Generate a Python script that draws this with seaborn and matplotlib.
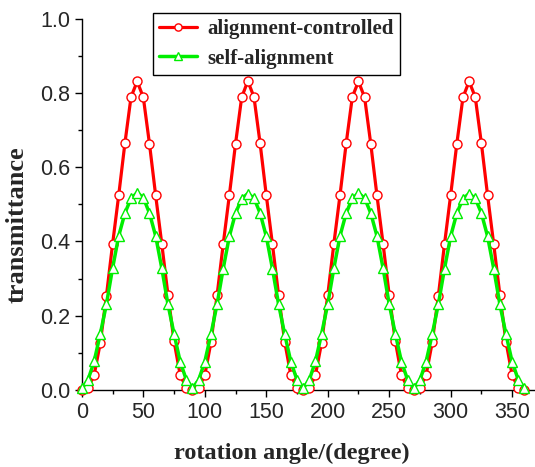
import numpy as np
import pandas as pd
import matplotlib
matplotlib.use("Agg")
import matplotlib.pyplot as plt
import seaborn as sns
from matplotlib.ticker import MultipleLocator

# rotation angle (degree)
angle = list(range(0, 365, 5))

# transmittance, alignment-controlled
aligned = [
    0.000, 0.005, 0.040, 0.127, 0.254, 0.393, 0.525, 0.664, 0.789, 0.831, 0.788, 0.663, 0.525, 0.394, 0.257, 0.131, 0.040, 0.006,
    0.000, 0.006, 0.040, 0.128, 0.255, 0.393, 0.525, 0.663, 0.788, 0.832, 0.789, 0.664, 0.525, 0.393, 0.256, 0.130, 0.040, 0.006,
    0.000, 0.005, 0.040, 0.127, 0.255, 0.394, 0.525, 0.664, 0.789, 0.831, 0.788, 0.663, 0.525, 0.394, 0.256, 0.131, 0.040, 0.006,
    0.000, 0.006, 0.040, 0.128, 0.254, 0.393, 0.525, 0.663, 0.788, 0.831, 0.789, 0.664, 0.525, 0.393, 0.257, 0.130, 0.040, 0.005,
    0.000,
]

# transmittance, self-alignment
selfal = [
    0.005, 0.027, 0.077, 0.151, 0.231, 0.328, 0.415, 0.476, 0.516, 0.531, 0.518, 0.476, 0.415, 0.328, 0.231, 0.151, 0.076, 0.027,
    0.005, 0.027, 0.076, 0.150, 0.231, 0.327, 0.414, 0.476, 0.515, 0.529, 0.517, 0.476, 0.414, 0.327, 0.231, 0.150, 0.076, 0.027,
    0.005, 0.027, 0.077, 0.151, 0.231, 0.328, 0.415, 0.476, 0.516, 0.530, 0.517, 0.476, 0.415, 0.328, 0.231, 0.151, 0.076, 0.027,
    0.005, 0.027, 0.076, 0.150, 0.231, 0.327, 0.414, 0.476, 0.515, 0.529, 0.516, 0.476, 0.414, 0.327, 0.231, 0.150, 0.076, 0.027,
    0.005,
]

sns.set_theme(style="ticks")
plt.rcParams.update({
    'font.family': ['Liberation Sans', 'DejaVu Sans'],
    'axes.linewidth': 1.0,
    'xtick.major.size': 5, 'ytick.major.size': 5,
    'xtick.minor.size': 3, 'ytick.minor.size': 3,
    'xtick.direction': 'out', 'ytick.direction': 'out',
})

fig = plt.figure(figsize=(5.35, 4.67), dpi=100)
ax = fig.add_axes([0.153, 0.165, 0.847, 0.795])

df = pd.DataFrame({"angle": angle, "aligned": aligned, "selfal": selfal})

sns.lineplot(data=df, x="angle", y="aligned", ax=ax, color='#ff0000', linewidth=2.3,
             marker='o', markersize=6.5, markerfacecolor='white', markeredgecolor='#ff0000',
             markeredgewidth=1.0, label='alignment-controlled', clip_on=False, zorder=3)
sns.lineplot(data=df, x="angle", y="selfal", ax=ax, color='#00ee00', linewidth=2.5,
             marker='^', markersize=7, markerfacecolor='white', markeredgecolor='#00ee00',
             markeredgewidth=1.0, label='self-alignment', clip_on=False, zorder=4)

ax.set_xlim(0, 368.6)
ax.set_ylim(0, 1.0)
ax.xaxis.set_major_locator(MultipleLocator(50))
ax.xaxis.set_minor_locator(MultipleLocator(25))
ax.yaxis.set_major_locator(MultipleLocator(0.2))
ax.yaxis.set_minor_locator(MultipleLocator(0.1))
ax.tick_params(axis='both', which='major', labelsize=15.5, color='black', width=1.0)
ax.tick_params(axis='both', which='minor', color='black', width=1.0)
ax.yaxis.set_major_formatter(plt.FuncFormatter(lambda v, p: f"{v:.1f}"))
for s in ['left', 'bottom']:
    ax.spines[s].set_color('black')
sns.despine(ax=ax)

serif = ['Liberation Serif', 'DejaVu Serif']
ax.set_xlabel('rotation angle/(degree)', family=serif, weight='bold', size=17.5)
ax.set_ylabel('transmittance', family=serif, weight='bold', size=19)
ax.xaxis.set_label_coords(0.464, -0.143)
ax.yaxis.set_label_coords(-0.117, 0.444)

leg = ax.legend(loc='upper left', bbox_to_anchor=(0.286, 0.972), bbox_transform=fig.transFigure,
                borderaxespad=0, frameon=True, fancybox=False, edgecolor='black', framealpha=1,
                prop=dict(family=serif, weight='bold', size=15),
                handlelength=1.8, handletextpad=0.5, borderpad=0.3, labelspacing=0.45,
                markerscale=0.8)
leg.get_frame().set_linewidth(1.0)

fig.savefig('out.png', dpi=100)
